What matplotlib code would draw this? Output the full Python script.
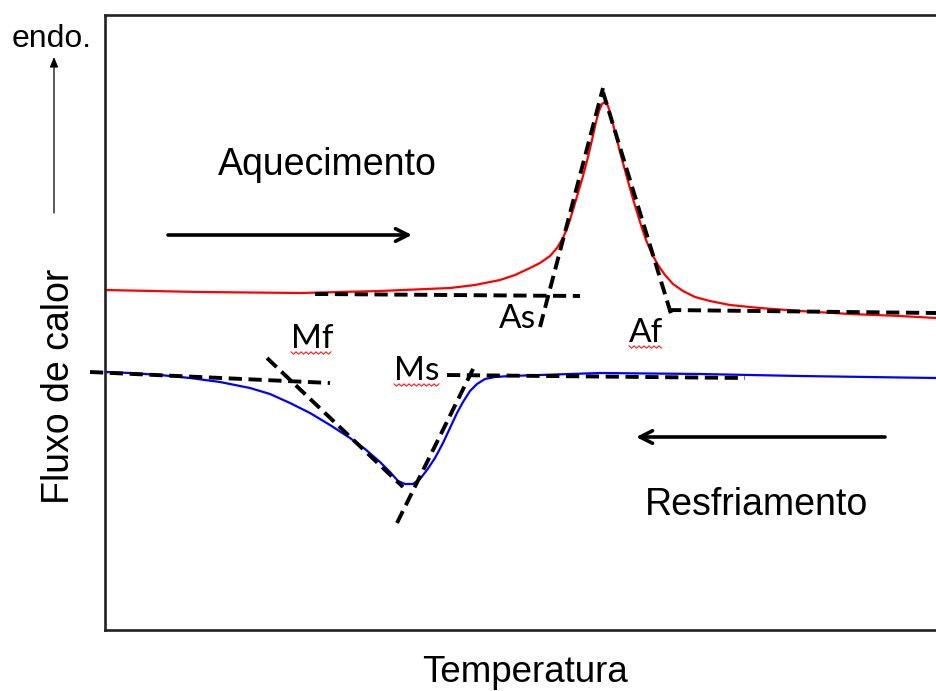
import numpy as np
import matplotlib
matplotlib.use("Agg")
import matplotlib.pyplot as plt

W, H = 936, 691

# Heating curve (red), x = temperature (arbitrary), y = heat flow (arbitrary, drawn downward)
heat_x = [105, 200, 300, 380, 450, 475, 500, 515, 530, 540, 550, 557, 563, 568, 573,
          578, 583, 588, 592, 596, 599, 602, 605, 608, 611, 615, 620, 626, 633, 640,
          646, 652, 658, 665, 673, 683, 695, 710, 730, 760, 800, 850, 900, 936]
heat_y = [290, 292, 293, 291, 288, 285, 280, 275, 268, 263, 256, 248, 238, 226, 210,
          193, 176, 157, 140, 122, 111, 104, 102, 106, 116, 132, 152, 174, 199, 222,
          240, 254, 265, 275, 284, 291, 297, 301, 305, 308, 311, 314, 316, 318]

# Cooling curve (blue)
cool_x = [105, 130, 160, 190, 220, 250, 270, 290, 310, 330, 350, 365, 380, 390, 398,
          405, 413, 420, 427, 435, 443, 450, 457, 463, 470, 477, 485, 495, 510, 600,
          700, 800, 936]
cool_y = [372, 373, 375, 378, 382, 388, 394, 403, 413, 425, 438, 449, 462, 472, 481,
          484, 484, 479, 470, 458, 443, 428, 413, 402, 391, 384, 379, 377, 376, 373,
          374, 376, 378]

# Tangent construction lines (x pairs, y pairs)
tangents_x = [(315, 580), (540, 603), (603, 672), (668, 936),
              (90, 330), (267, 403), (397, 475), (447, 745)]
tangents_y = [(294, 296), (327, 88), (92, 317), (310, 313),
              (372, 383), (358, 487), (523, 365), (375, 378)]

# Transformation temperature labels
labels = ["Mf", "Ms", "As", "Af"]
label_x = [291, 394, 499, 629]
label_y = [348, 380, 328, 342]
underlined = [True, True, False, True]

fig = plt.figure(figsize=(W / 100, H / 100), dpi=100)
ax = fig.add_axes([105 / W, (H - 630) / H, (W - 105) / W, (630 - 15) / H])
ax.set_xlim(105, 936)
ax.set_ylim(630, 15)
ax.set_xticks([])
ax.set_yticks([])
for s in ["left", "bottom", "top"]:
    ax.spines[s].set_linewidth(1.9)
    ax.spines[s].set_color("#222222")
ax.spines["right"].set_visible(False)

ax.plot(heat_x, heat_y, color="red", lw=1.6, solid_joinstyle="round")
ax.plot(cool_x, cool_y, color="blue", lw=1.6, solid_joinstyle="round")

for tx, ty in zip(tangents_x, tangents_y):
    ax.plot(tx, ty, color="black", lw=2.8, dashes=(3.4, 1.7), clip_on=False,
            solid_capstyle="butt", dash_capstyle="butt")

lab_font = "Lato"
for lab, lx, ly, ul in zip(labels, label_x, label_y, underlined):
    t = ax.text(lx, ly, lab, fontsize=24, family=lab_font, va="baseline", ha="left",
                color="black")
    if ul:
        fig.canvas.draw()
        bb = t.get_window_extent()
        x0, x1 = bb.x0, bb.x1
        yy = H - (ly + 5)
        xs = np.arange(x0, x1, 2.5)
        ys = yy + np.where(np.arange(len(xs)) % 2 == 0, 1.2, -1.2)
        fig.add_artist(plt.Line2D(xs / W, ys / H, color="red", lw=0.7))

# Direction arrows
ax.annotate("", xy=(412, 235), xytext=(168, 235),
            arrowprops=dict(arrowstyle="->,head_length=0.9,head_width=0.45",
                            lw=2.6, color="black", shrinkA=0, shrinkB=0))
ax.annotate("", xy=(636, 437), xytext=(885, 437),
            arrowprops=dict(arrowstyle="->,head_length=0.9,head_width=0.45",
                            lw=2.6, color="black", shrinkA=0, shrinkB=0))

ax.text(218, 175, "Aquecimento", fontsize=27, family="Liberation Sans",
        va="baseline", ha="left")
ax.text(645, 515, "Resfriamento", fontsize=27, family="Liberation Sans",
        va="baseline", ha="left")

# Outer labels (figure pixel coords)
def fx(px):
    return px / W

def fy(py):
    return 1 - py / H

fig.text(fx(525), fy(682), "Temperatura", fontsize=26.5, family="Liberation Sans",
         ha="center", va="baseline")
fig.text(fx(41), fy(386), "Fluxo de calor", fontsize=27, family="Liberation Sans",
         ha="left", va="center", rotation=90)
fig.text(fx(12), fy(47), "endo.", fontsize=23, family="Liberation Sans",
         ha="left", va="baseline")
fig.add_artist(matplotlib.patches.FancyArrowPatch(
    (fx(54), fy(213)), (fx(54), fy(57)), transform=fig.transFigure,
    arrowstyle="-|>,head_length=6,head_width=2.5", lw=0.9, color="black",
    shrinkA=0, shrinkB=0))

fig.savefig("out.png", dpi=100)
